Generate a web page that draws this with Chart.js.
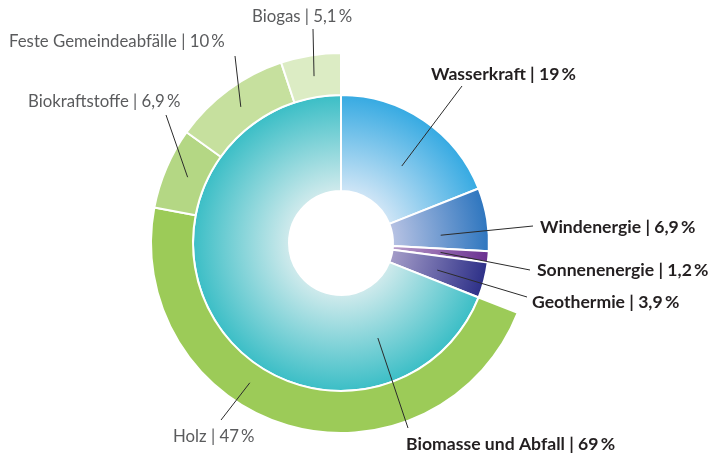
<!DOCTYPE html>
<html>
<head>
<meta charset="utf-8">
<script src="https://cdn.jsdelivr.net/npm/chart.js@4.4.1/dist/chart.umd.min.js"></script>
<style>
html,body{margin:0;padding:0;background:#fff;}
#wrap{width:717px;height:457px;position:relative;}
</style>
</head>
<body>
<div id="wrap"><canvas id="c" width="717" height="457"></canvas></div>
<script>
// ---- Data ----
const innerLabels = ['Wasserkraft', 'Windenergie', 'Sonnenenergie', 'Geothermie', 'Biomasse und Abfall'];
const innerValues = [19, 6.9, 1.2, 3.9, 69];
const outerLabels = ['Holz', 'Biokraftstoffe', 'Feste Gemeindeabfälle', 'Biogas'];
const outerValues = [47, 6.9, 10, 5.1];

// ---- Styles ----
const innerLight = ['#cfe5f6', '#b7c2e3', '#b89cca', '#a49cc8', '#cfeaec'];
const innerDark  = ['#36aae2', '#2e76bf', '#6a2f90', '#2d3088', '#3bbec6'];
const outerColors = ['#9ccb58', '#b4d784', '#c6e09e', '#dcecc4'];

// label layout: text position (left, baseline), leader end point, and where on the arc the leader starts
const innerLayout = [
  {x: 431, y: 80,  ex: 462, ey: 86,  af: 0.56, rf: 0.48},
  {x: 540, y: 233, ex: 533, ey: 226, af: 0.69, rf: 0.50},
  {x: 537, y: 276, ex: 530, ey: 270, af: 0.50, rf: 0.50},
  {x: 532, y: 308, ex: 527, ey: 297, af: 0.58, rf: 0.50},
  {x: 406, y: 450, ex: 408, ey: 428, af: 0.19, rf: 0.52}
];
const outerLayout = [
  {x: 173, y: 442, ex: 221, ey: 420, af: 0.60, rf: 0.45},
  {x: 28,  y: 107, ex: 166, ey: 115, af: 0.50, rf: 0.45},
  {x: 9,   y: 47,  ex: 235, ey: 56,  af: 0.50, rf: 0.50},
  {x: 252, y: 22,  ex: 313, ey: 29,  af: 0.50, rf: 0.50}
];

const fmt = v => String(v).replace('.', ',') + '\u2009%';
const spacer = innerValues.slice(0, innerValues.length - 1).reduce((a, b) => a + b, 0);

function innerGradient(ctx) {
  const i = ctx.dataIndex;
  const chart = ctx.chart;
  const ca = chart.chartArea;
  if (!ca) return innerDark[i];
  const cx = (ca.left + ca.right) / 2, cy = (ca.top + ca.bottom) / 2;
  const ctrl = chart.getDatasetMeta(1).controller;
  const r0 = ctrl.innerRadius || 52, r1 = ctrl.outerRadius || 148;
  const g = chart.ctx.createRadialGradient(cx, cy, r0, cx, cy, r1);
  g.addColorStop(0, innerLight[i]);
  g.addColorStop(1, innerDark[i]);
  return g;
}

const leaderPlugin = {
  id: 'leaders',
  afterDatasetsDraw(chart) {
    const ctx = chart.ctx;
    const draw = (meta, idx, layout, text, bold) => {
      const el = meta.data[idx];
      const a = el.startAngle + (el.endAngle - el.startAngle) * layout.af;
      const r = el.innerRadius + (el.outerRadius - el.innerRadius) * layout.rf;
      const sx = el.x + Math.cos(a) * r, sy = el.y + Math.sin(a) * r;
      ctx.save();
      ctx.strokeStyle = '#2b2b2b';
      ctx.lineWidth = 1;
      ctx.beginPath();
      ctx.moveTo(sx, sy);
      ctx.lineTo(layout.ex, layout.ey);
      ctx.stroke();
      ctx.font = bold ? 'bold 17.6px Lato' : '16.8px Lato';
      ctx.fillStyle = bold ? '#231f20' : '#5a5b5d';
      ctx.textAlign = 'left';
      ctx.textBaseline = 'alphabetic';
      ctx.fillText(text, layout.x, layout.y);
      ctx.restore();
    };
    const mOuter = chart.getDatasetMeta(0), mInner = chart.getDatasetMeta(1);
    innerLabels.forEach((l, i) => draw(mInner, i, innerLayout[i], l + ' | ' + fmt(innerValues[i]), true));
    outerLabels.forEach((l, i) => draw(mOuter, i + 1, outerLayout[i], l + ' | ' + fmt(outerValues[i]), false));
  }
};

new Chart(document.getElementById('c'), {
  type: 'doughnut',
  data: {
    labels: ['', ...outerLabels],
    datasets: [
      {
        data: [spacer, ...outerValues],
        backgroundColor: ['rgba(0,0,0,0)', ...outerColors],
        borderColor: '#ffffff',
        borderWidth: [0, 2, 2, 2, 2],
        weight: 42
      },
      {
        data: innerValues,
        backgroundColor: innerGradient,
        borderColor: '#ffffff',
        borderWidth: 2,
        weight: 96
      }
    ]
  },
  options: {
    responsive: false,
    devicePixelRatio: 1,
    animation: false,
    cutout: 52,
    layout: {padding: {left: 150, top: 52, right: 185, bottom: 23}},
    plugins: {legend: {display: false}, tooltip: {enabled: false}}
  },
  plugins: [leaderPlugin]
});
</script>
</body>
</html>
